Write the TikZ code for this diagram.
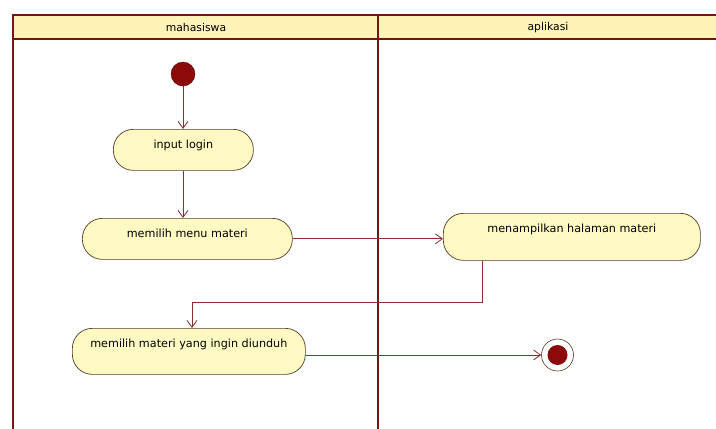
\documentclass[tikz,border=0pt]{standalone}
\usepackage{fontspec}
\setmainfont{DejaVu Sans}
\usetikzlibrary{arrows.meta}
\definecolor{laneRed}{HTML}{7A1414}
\definecolor{flowRed}{HTML}{8A2E2E}
\definecolor{headFill}{HTML}{FFF3B8}
\definecolor{actFill}{HTML}{FFFAC4}
\definecolor{actLine}{HTML}{5A3A26}
\definecolor{dotRed}{HTML}{8B0A0A}
\begin{document}
\begin{tikzpicture}[x=1pt,y=-1pt,
  lane/.style={draw=laneRed,line width=2.6pt},
  headtext/.style={font=\fontsize{10.8}{12}\selectfont,text=black},
  action/.style={draw=actLine,fill=actFill,line width=0.7pt,rounded corners=20pt,
    anchor=north west,inner xsep=0pt,inner ysep=4pt,text height=15pt,
    font=\fontsize{11.2}{13}\selectfont,text=black},
  flow/.style={draw=flowRed,line width=0.8pt,-{Straight Barb[length=7pt,width=10pt,line width=0.8pt]}},
  startdot/.style={circle,fill=dotRed,draw=dotRed!70!black,minimum size=24pt,inner sep=0pt},
  enddot/.style={circle,draw=actLine,fill=white,line width=0.6pt,minimum size=32pt,inner sep=0pt}]
\useasboundingbox (0,0) rectangle (716,429);
\fill[white] (0,0) rectangle (716,429);

% swimlane header and borders
\fill[headFill] (13,15) rectangle (716,39);
\draw[lane] (13,429) -- (13,15) -- (716,15);
\draw[lane] (13,39) -- (716,39);
\draw[lane] (378,15) -- (378,429);
\node[headtext] (laneA) at (196,27.5) {mahasiswa};
\node[headtext] (laneB) at (548,27.5) {aplikasi};

% activities
\node[startdot] (start) at (183,74) {};
\node[action,minimum width=140pt,text depth=18pt] (login) at (113,129) {input login};
\node[action,minimum width=210pt,text depth=18pt] (menu) at (82,218) {memilih menu materi};
\node[action,minimum width=257pt,text depth=24pt] (tampil) at (443,213) {menampilkan halaman materi};
\node[action,minimum width=233pt,text depth=23pt] (pilih) at (72,328) {memilih materi yang ingin diunduh};
\node[enddot] (end) at (557.5,355) {};
\fill[dotRed] (end.center) circle (10);

% transitions
\coordinate (turn) at (192,302);
\draw[flow] (start) -- (login.north -| start);
\draw[flow] (login.south -| start) -- (menu.north -| start);
\draw[flow] (menu.east) -- (tampil.west |- menu.east);
\draw[flow] (tampil.south) ++(-89.5,0) |- (turn) -- (turn |- pilih.north);
\draw[flow] (end.west -| pilih.east) -- (end.west);
\end{tikzpicture}
\end{document}
